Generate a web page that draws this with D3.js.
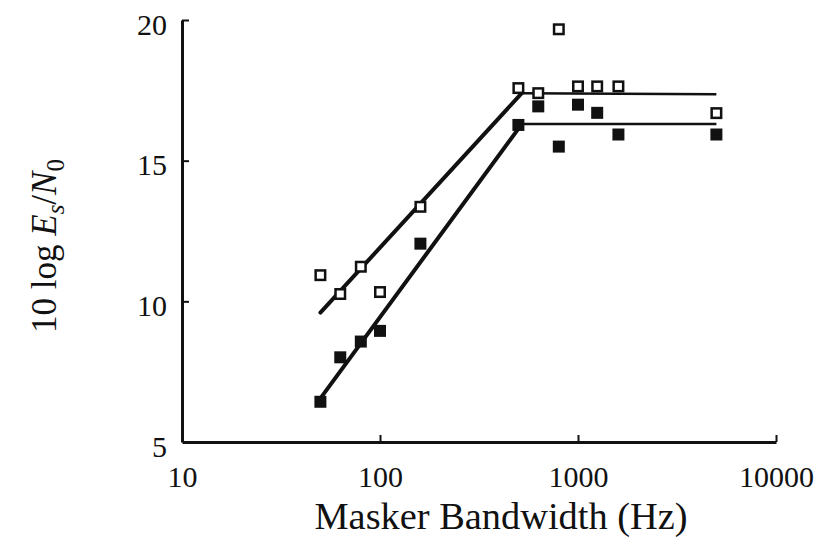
<!DOCTYPE html>
<html>
<head>
<meta charset="utf-8">
<script src="https://cdn.jsdelivr.net/npm/d3@7"></script>
<style>
  body { margin: 0; background: #fff; }
  svg text { font-family: "Liberation Serif", "Times New Roman", serif; fill: #111; }
</style>
</head>
<body>
<svg id="chart"></svg>
<script>
// Data
const bandwidth = [50, 63, 80, 100, 160, 500, 630, 800, 1000, 1250, 1600, 5000];
const openValues = [10.93, 10.26, 11.23, 10.33, 13.36, 17.58, 17.4, 19.67, 17.64, 17.64, 17.64, 16.69];
const filledValues = [6.43, 8.01, 8.57, 8.95, 12.05, 16.27, 16.93, 15.5, 16.99, 16.7, 15.93, 15.93];

// Fitted broken-stick lines
const fitX = [50, 520, 5000];
const openFit = [9.6, 17.4, 17.36];
const filledFit = [6.55, 16.3, 16.3];

const xTicks = [10, 100, 1000, 10000];
const yTicks = [5, 10, 15, 20];

const width = 820;
const height = 542;
const margin = { top: 20, right: 44, bottom: 100, left: 182 };
const innerW = width - margin.left - margin.right;
const innerH = height - margin.top - margin.bottom;

const xScale = d3.scaleLog().domain([10, 10000]).range([0, innerW]);
const yScale = d3.scaleLinear().domain([5, 20]).range([innerH, 0]);

const svg = d3.select('#chart')
  .attr('width', width)
  .attr('height', height);

const chart = svg.append('g')
  .attr('transform', `translate(${margin.left},${margin.top})`);

// X axis
const xAxis = d3.axisBottom(xScale)
  .tickValues(xTicks)
  .tickFormat(d3.format('d'))
  .tickSizeInner(-7)
  .tickSizeOuter(0)
  .tickPadding(0);

const gx = chart.append('g')
  .attr('transform', `translate(0,${innerH})`)
  .call(xAxis);
gx.select('.domain').attr('stroke', '#111').attr('stroke-width', 3);
gx.selectAll('.tick line').attr('stroke', '#111').attr('stroke-width', 2);
gx.selectAll('.tick text')
  .attr('y', 45)
  .attr('dy', 0)
  .attr('font-size', 30)
  .attr('font-family', '"Liberation Serif", serif');

// Y axis
const yAxis = d3.axisLeft(yScale)
  .tickValues(yTicks)
  .tickSizeInner(-7)
  .tickSizeOuter(0)
  .tickPadding(0);

const gy = chart.append('g').call(yAxis);
gy.select('.domain').attr('stroke', '#111').attr('stroke-width', 3);
gy.selectAll('.tick line')
  .attr('stroke', '#111')
  .attr('stroke-width', 2)
  .attr('display', d => d === 5 ? 'none' : null);
gy.selectAll('.tick text')
  .attr('x', -15)
  .attr('dy', 14)
  .attr('font-size', 30)
  .attr('font-family', '"Liberation Serif", serif');

// Fit lines: thick slope, thinner plateau
function drawFit(values) {
  chart.append('line')
    .attr('x1', xScale(fitX[0])).attr('y1', yScale(values[0]))
    .attr('x2', xScale(fitX[1])).attr('y2', yScale(values[1]))
    .attr('stroke', '#111').attr('stroke-width', 4).attr('stroke-linecap', 'round');
  chart.append('line')
    .attr('x1', xScale(fitX[1])).attr('y1', yScale(values[1]))
    .attr('x2', xScale(fitX[2])).attr('y2', yScale(values[2]))
    .attr('stroke', '#111').attr('stroke-width', 2.5);
}
drawFit(openFit);
drawFit(filledFit);

const size = 12;

// Filled squares
chart.selectAll('rect.filled')
  .data(bandwidth.map((b, i) => [b, filledValues[i]]))
  .enter()
  .append('rect')
  .attr('class', 'filled')
  .attr('x', d => xScale(d[0]) - size / 2)
  .attr('y', d => yScale(d[1]) - size / 2)
  .attr('width', size)
  .attr('height', size)
  .attr('fill', '#111');

// Open squares
chart.selectAll('rect.open')
  .data(bandwidth.map((b, i) => [b, openValues[i]]))
  .enter()
  .append('rect')
  .attr('class', 'open')
  .attr('x', d => xScale(d[0]) - (size - 2.5) / 2)
  .attr('y', d => yScale(d[1]) - (size - 2.5) / 2)
  .attr('width', size - 2.5)
  .attr('height', size - 2.5)
  .attr('fill', '#fff')
  .attr('stroke', '#111')
  .attr('stroke-width', 2.5);

// X title
svg.append('text')
  .attr('x', 501)
  .attr('y', 529)
  .attr('text-anchor', 'middle')
  .attr('font-size', 37)
  .attr('textLength', 373)
  .attr('lengthAdjust', 'spacingAndGlyphs')
  .text('Masker Bandwidth (Hz)');

// Y title
const ylab = svg.append('text')
  .attr('transform', 'translate(56,246) rotate(-90)')
  .attr('text-anchor', 'middle')
  .attr('font-size', 35);
ylab.append('tspan').text('10 log ');
ylab.append('tspan').attr('font-style', 'italic').text('E');
ylab.append('tspan').attr('font-style', 'italic').attr('font-size', 25).attr('dy', 8).text('s');
ylab.append('tspan').attr('dy', -8).text('/');
ylab.append('tspan').attr('font-style', 'italic').text('N');
ylab.append('tspan').attr('font-size', 25).attr('dy', 8).text('0');
</script>
</body>
</html>
